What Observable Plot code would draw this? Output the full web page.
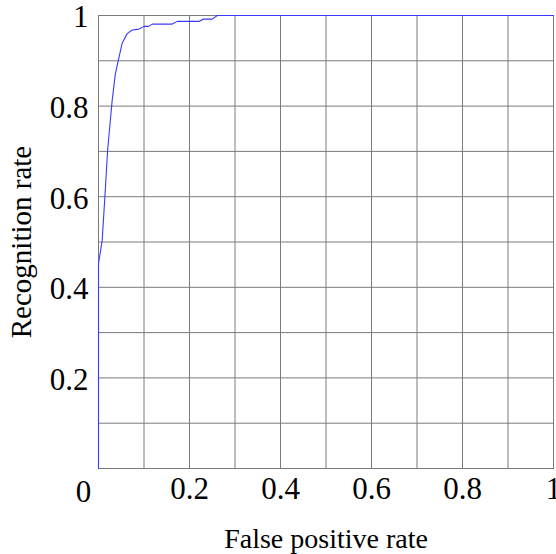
<!DOCTYPE html>
<html>
<head>
<meta charset="utf-8">
<script src="https://cdn.jsdelivr.net/npm/d3@7"></script>
<script src="https://cdn.jsdelivr.net/npm/@observablehq/plot@0.6"></script>
<style>
  html, body { margin: 0; padding: 0; background: #fff; }
</style>
</head>
<body>
<div id="chart"></div>
<script>
// ROC curve: false positive rate vs recognition rate
const fpr  = [0, 0, 0.008, 0.014, 0.020, 0.026, 0.030, 0.037, 0.052, 0.063, 0.074, 0.089, 0.100, 0.110, 0.118, 0.162, 0.173, 0.220, 0.231, 0.250, 0.261, 1.0];
const rate = [0, 0.452, 0.503, 0.599, 0.702, 0.768, 0.812, 0.871, 0.939, 0.960, 0.968, 0.970, 0.976, 0.976, 0.981, 0.981, 0.987, 0.987, 0.992, 0.992, 1.0, 1.0];

const xTicks = [0.2, 0.4, 0.6, 0.8, 1];
const yTicks = [0.2, 0.4, 0.6, 0.8, 1];
const gridLines = [0.1, 0.2, 0.3, 0.4, 0.5, 0.6, 0.7, 0.8, 0.9];
const xLabel = "False positive rate";
const yLabel = "Recognition rate";

const data = fpr.map((x, i) => ({x, y: rate[i]}));
const fmt = d => d === 1 ? "1" : d === 0 ? "0" : String(d);

const chart = Plot.plot({
  width: 556,
  height: 554,
  marginTop: 15,
  marginBottom: 86,
  marginLeft: 98,
  marginRight: 3,
  style: {fontFamily: "'Liberation Serif', serif", fontSize: "28px", color: "#000", background: "#fff"},
  x: {domain: [0, 1]},
  y: {domain: [0, 1]},
  marks: [
    Plot.ruleX(gridLines, {x: d => d, stroke: "#7a7a7a", strokeWidth: 1, strokeOpacity: 1}),
    Plot.ruleY(gridLines, {y: d => d, stroke: "#7a7a7a", strokeWidth: 1, strokeOpacity: 1}),
    Plot.frame({stroke: "#7a7a7a", strokeWidth: 1}),
    Plot.line(data, {x: "x", y: "y", stroke: "#3a3aff", strokeWidth: 1.1}),
    Plot.axisX({ticks: xTicks, tickFormat: fmt, tickSize: 0, tickPadding: 8, label: null, fontSize: 31}),
    Plot.axisX({ticks: [], label: xLabel, labelAnchor: "center", labelArrow: "none", labelOffset: 79, fontSize: 28}),
    Plot.axisY({ticks: yTicks, tickFormat: fmt, tickSize: 0, tickPadding: 10, dy: 2, label: null, fontSize: 31}),
    Plot.axisY({ticks: [], label: yLabel, labelAnchor: "center", labelArrow: "none", labelOffset: 88, fontSize: 29}),
    Plot.text([0], {x: d => d, frameAnchor: "bottom", text: d => fmt(d), dx: -15, dy: 24, lineAnchor: "middle", fontSize: 31})
  ]
});
document.getElementById("chart").appendChild(chart);
</script>
</body>
</html>
